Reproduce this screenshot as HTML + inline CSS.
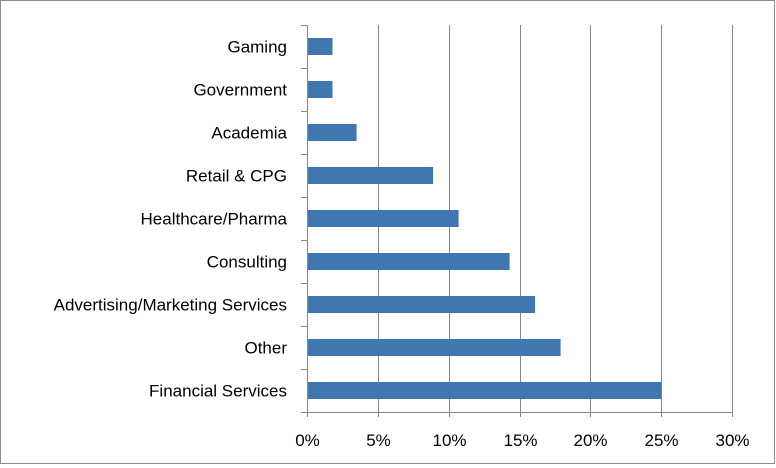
<!DOCTYPE html>
<html><head><meta charset="utf-8"><style>
body{margin:0;background:#fff;}
svg{display:block;font-family:"Liberation Sans",sans-serif;}
</style></head><body>
<svg id="chart" width="776" height="468">
<rect x="0.5" y="0.5" width="774" height="463" fill="#fff" stroke="#8c8c8c"/>
<g id="grid"></g><g id="bars"></g><g id="labels"></g>
</svg>
<script>
const categories=["Gaming","Government","Academia","Retail & CPG","Healthcare/Pharma","Consulting","Advertising/Marketing Services","Other","Financial Services"];
const values=[1.8,1.8,3.5,8.9,10.7,14.3,16.1,17.9,25.0];
const ticks=[0,5,10,15,20,25,30];
const tickLabels=["0%","5%","10%","15%","20%","25%","30%"];
const NS="http://www.w3.org/2000/svg";
const x0=307,x1=732,yTop=25,yBot=412,xMax=30;
const xs=v=>x0+(v/xMax)*(x1-x0);
const band=(yBot-yTop)/categories.length;
const yc=i=>yTop+band*(i+0.5);
function mk(tag,attrs,parent){const e=document.createElementNS(NS,tag);for(const k in attrs)e.setAttribute(k,attrs[k]);parent.appendChild(e);return e;}
const grid=document.getElementById('grid'),bars=document.getElementById('bars'),labels=document.getElementById('labels');
ticks.forEach((t,i)=>{
  const X=Math.round(xs(t))+0.5;
  const l=mk('line',{x1:X,x2:X,y1:yTop,y2:yBot+5,stroke:'#868686','stroke-width':1},grid);
  
  
  const tx=mk('text',{x:X,y:446,'text-anchor':'middle','font-size':17,fill:'#000'},labels);
  tx.textContent=tickLabels[i];
  
  
});
const ax=mk('line',{x1:x0-5,x2:x1,y1:yBot+0.5,y2:yBot+0.5,stroke:'#868686'},grid);


for(let i=0;i<=categories.length;i++){
  const Y=Math.round(yTop+band*i)+0.5;
  const t=mk('line',{x1:x0-6,x2:x0,y1:Y,y2:Y,stroke:'#868686'},grid);
  
  
}
categories.forEach((c,i)=>{
  const b=mk('rect',{x:x0+1,y:yc(i)-8.5,width:xs(values[i])-x0-1,height:17,fill:'#4077b0'},bars);
  
  
  const t=mk('text',{x:287,y:yc(i)+6,'text-anchor':'end','font-size':17,fill:'#000'},labels);
  t.textContent=c;
  
  
});
</script>
</body></html>
